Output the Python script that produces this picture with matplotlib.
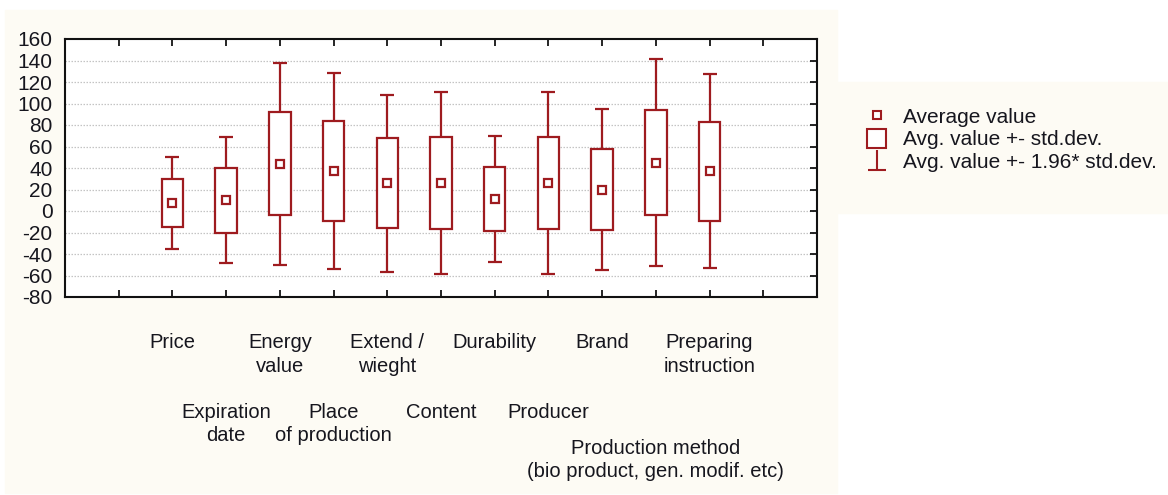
import numpy as np
import matplotlib.pyplot as plt
from matplotlib.patches import Patch, Rectangle
from matplotlib.lines import Line2D
from matplotlib.path import Path

plt.rcParams['font.family'] = ['Liberation Sans', 'DejaVu Sans']

# Daten
categories = ["Price", "Expiration\ndate", "Energy\nvalue", "Place\nof production",
              "Extend /\nwieght", "Content", "Durability", "Producer", "Brand",
              "Production method\n(bio product, gen. modif. etc)",
              "Preparing\ninstruction"]
label_row = [0, 1, 0, 1, 0, 1, 0, 1, 0, 2, 0]
means = np.array([7.5, 10, 44, 37, 26, 26, 11, 26, 20, 45, 37])
sds = np.array([22, 30, 48, 46.5, 42, 43, 30, 43, 38, 49, 46])
yticks = list(range(-80, 161, 20))

red = '#9e1b1f'
cream = '#fdfbf4'
txt = '#16161e'

x = np.arange(2, 2 + len(means))
lo_box, hi_box = means - sds, means + sds
lo_w, hi_w = means - 1.96 * sds, means + 1.96 * sds

fig = plt.figure(figsize=(11.68, 4.95), dpi=100, facecolor='white')
# Hintergrundflächen
fig.patches.append(Rectangle((5 / 1168, 2 / 495), 832 / 1168, 483 / 495,
                             transform=fig.transFigure, color=cream, zorder=-10))
fig.patches.append(Rectangle((838 / 1168, (495 - 213) / 495), 330 / 1168, 131 / 495,
                             transform=fig.transFigure, color=cream, zorder=-10))

ax = fig.add_axes([65 / 1168, 198 / 495, 752 / 1168, 258 / 495])
ax.set_facecolor('white')
ax.set_xlim(0, 14)
ax.set_ylim(-80, 160)

ax.set_yticks(yticks)
ax.set_yticklabels([str(v) for v in yticks], fontsize=15, color=txt)
ax.set_xticks(range(1, 14))
ax.set_xticklabels([])
ax.tick_params(axis='y', left=False, right=True, direction='in', length=5,
               width=1.2, pad=9)
ax.tick_params(axis='x', top=True, bottom=True, direction='in', length=5, width=1.2)
for s in ax.spines.values():
    s.set_linewidth(1.5)
    s.set_color('#111111')

for v in yticks[1:-1]:
    ax.axhline(v, color='#c4c4c4', lw=0.9, ls=(0, (1.2, 1.2)), zorder=0)

# Whisker, Boxen, Mittelwerte
ax.vlines(x, hi_box, hi_w, color=red, lw=1.6, zorder=2)
ax.vlines(x, lo_w, lo_box, color=red, lw=1.6, zorder=2)
ax.hlines(hi_w, x - 0.13, x + 0.13, color=red, lw=1.6, zorder=2)
ax.hlines(lo_w, x - 0.13, x + 0.13, color=red, lw=1.6, zorder=2)
ax.bar(x, hi_box - lo_box, bottom=lo_box, width=0.4, facecolor='white',
       edgecolor=red, linewidth=1.6, zorder=3)
ax.plot(x, means, ls='none', marker='s', ms=5.5, mfc='white', mec=red, mew=1.6, zorder=4)

# Kategorien versetzt beschriften
offsets = [26, 76, 102]
for xi, lab, r in zip(x, categories, label_row):
    ax.annotate(lab, xy=(xi, 0), xycoords=('data', 'axes fraction'),
                xytext=(0, -offsets[r]), textcoords='offset points',
                ha='center', va='top', fontsize=14.5, color=txt, linespacing=1.3)

# Legende
perp = Path([(-0.45, -0.5), (0.45, -0.5), (0, -0.5), (0, 0.5)],
            [Path.MOVETO, Path.LINETO, Path.MOVETO, Path.LINETO])
handles = [
    Line2D([], [], ls='none', marker='s', ms=5.5, mfc='white', mec=red, mew=1.5),
    Patch(facecolor='white', edgecolor=red, linewidth=1.5),
    Line2D([], [], ls='none', marker=perp, ms=15, mew=1.5, color=red),
]
labels = ["Average value", "Avg. value +- std.dev.", "Avg. value +- 1.96* std.dev."]
fig.legend(handles, labels, loc='upper left', bbox_to_anchor=(857 / 1168, 1 - 96 / 495),
           frameon=False, fontsize=15, handlelength=0.9, handleheight=1.0,
           handletextpad=0.8, labelspacing=0.1, borderpad=0, labelcolor=txt)

fig.savefig('out.png', dpi=100, facecolor=fig.get_facecolor())
